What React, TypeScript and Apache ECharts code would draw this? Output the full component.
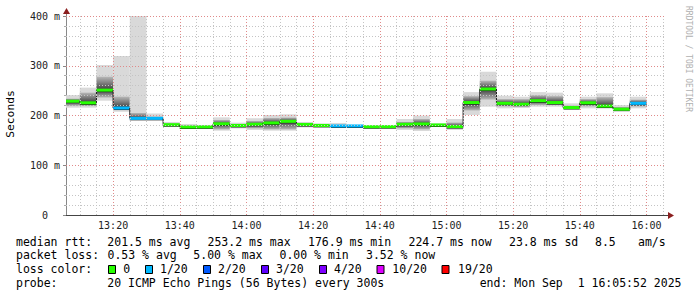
import React, { useEffect, useRef } from 'react';
import * as echarts from 'echarts';

// ---- data ----
const rangeStart = '13:05:52';
const rangeEnd = '16:05:52';
const binMinutes = 5;
const binStarts = [
  '13:05', '13:10', '13:15', '13:20', '13:25', '13:30', '13:35', '13:40', '13:45', '13:50',
  '13:55', '14:00', '14:05', '14:10', '14:15', '14:20', '14:25', '14:30', '14:35', '14:40',
  '14:45', '14:50', '14:55', '15:00', '15:05', '15:10', '15:15', '15:20', '15:25', '15:30',
  '15:35', '15:40', '15:45', '15:50', '15:55',
];
const medianRtt = [
  228.7, 225.5, 251.0, 215.0, 194.3, 194.3, 181.5, 176.9, 177.2, 183.3,
  180.0, 182.3, 185.0, 188.3, 182.0, 180.0, 179.0, 179.0, 177.5, 177.6,
  182.3, 183.0, 181.0, 177.8, 226.0, 253.2, 224.5, 222.7, 229.8, 226.0,
  216.0, 225.5, 219.0, 212.7, 224.5,
];
const smokeLow = [
  215.7, 215.7, 229.8, 207.7, 193.0, 193.0, 180.0, 175.0, 175.0, 169.5,
  174.0, 171.0, 169.5, 169.5, 176.0, 178.0, 177.0, 177.0, 175.5, 175.5,
  171.0, 168.8, 178.0, 171.0, 201.0, 217.7, 214.4, 215.0, 217.7, 217.7,
  213.0, 214.4, 214.4, 211.0, 214.4,
];
const smokeHigh = [
  241.0, 256.0, 301.5, 319.6, 400.0, 204.0, 187.0, 183.0, 181.0, 196.3,
  185.6, 194.3, 201.0, 202.4, 187.0, 184.0, 185.0, 181.0, 179.0, 179.0,
  193.0, 199.7, 184.0, 193.0, 247.0, 288.0, 239.8, 237.8, 247.0, 245.9,
  224.5, 237.8, 244.6, 221.0, 237.8,
];
const coreLow = [
  219, 219, 236, 211, 193, 193, 180, 176, 176, 172,
  176, 174, 172, 172, 177, 179, 178, 178, 176, 176,
  174, 172, 179, 174, 210, 232, 218, 218, 221, 221,
  214, 218, 216, 212, 218,
];
const coreHigh = [
  234, 246, 278, 238, 205, 198, 184, 180, 179, 191,
  183, 189, 195, 196, 185, 182, 181, 180, 178, 178.5,
  187, 193, 183, 186, 239, 270, 233, 233, 241, 239,
  220, 233, 237, 217, 232,
];
const lostPings = [
  0, 0, 0, 1, 1, 1, 0, 0, 0, 0,
  0, 0, 0, 0, 0, 0, 1, 1, 0, 0,
  0, 0, 0, 0, 0, 0, 0, 0, 0, 0,
  0, 0, 0, 0, 1,
];
const lossThresholds = [0, 1, 2, 3, 4, 10, 19];
const lossColors = ['#26ff00', '#00b8ff', '#0059ff', '#5e00ff', '#7e00ff', '#dd00ff', '#ff0000'];
const lossLabels = ['0', '1/20', '2/20', '3/20', '4/20', '10/20', '19/20'];
const xTickLabels = ['13:20', '13:40', '14:00', '14:20', '14:40', '15:00', '15:20', '15:40', '16:00'];
const yMax = 400;
const yStep = 100;
const yAxisTitle = 'Seconds';
const watermark = 'RRDTOOL / TOBI OETIKER';
const rttLine = ['median rtt:', '201.5 ms avg', '253.2 ms max', '176.9 ms min', '224.7 ms now', '23.8 ms sd', '8.5', 'am/s'];
const lossLine = ['packet loss:', '0.53 % avg', '5.00 % max', '0.00 % min', '3.52 % now'];
const colorLineTitle = 'loss color:';
const probeLine = ['probe:', '20 ICMP Echo Pings (56 Bytes) every 300s'];
const endLine = ['end: Mon Sep', '1 16:05:52 2025'];

// ---- helpers ----
const toMin = (s: string) => {
  const p = s.split(':').map(Number);
  return p[0] * 60 + p[1] + (p[2] || 0) / 60;
};
const fmtMin = (v: number) => {
  const h = Math.floor(v / 60);
  const m = Math.round(v - h * 60);
  return `${h}:${m < 10 ? '0' : ''}${m}`;
};
const lossColorFor = (n: number) => {
  let idx = 0;
  lossThresholds.forEach((t, i) => { if (n >= t) idx = i; });
  return lossColors[idx];
};

const X_MIN = toMin(rangeStart);
const X_MAX = toMin(rangeEnd);
const MONO = '"DejaVu Sans Mono", monospace';

// layout (pixels)
const rttX = [16, 107.3, 207.5, 308, 408.5, 509, 595, 638];
const lossX = [16, 107.5, 193.3, 279.5, 366];
const boxX = [108.5, 145.5, 203.5, 261.5, 319.5, 377, 442];
const boxLabelX = [123.3, 160, 218, 276, 334, 392.3, 458];
const rowY = [241.5, 255.3, 269.3, 283.3];

export default function App() {
  const ref = useRef<HTMLDivElement>(null);
  useEffect(() => {
    if (!ref.current) return;
    const chart = echarts.init(ref.current, undefined, { renderer: 'svg' });

    const gridLines: any[] = [];
    for (let m = Math.ceil(X_MIN / 5) * 5; m <= X_MAX; m += 5) {
      const major = m % 20 === 0;
      gridLines.push({ xAxis: m, lineStyle: { color: major ? '#e08a8a' : '#c4c4c4', type: [1, 2], width: 1 } });
    }
    for (let v = 20; v <= yMax; v += 20) {
      const major = v % 100 === 0;
      gridLines.push({ yAxis: v, lineStyle: { color: major ? '#e08a8a' : '#c4c4c4', type: [1, 2], width: 1 } });
    }

    const textEl = (text: string, x: number, y: number, extra: any = {}) => ({
      type: 'text', x, y, silent: true,
      style: { text, font: `11.5px ${MONO}`, fill: '#000', align: 'left', verticalAlign: 'middle', ...extra },
    });

    const graphics: any[] = [];
    rttLine.forEach((t, i) => graphics.push(textEl(t, rttX[i], rowY[0])));
    lossLine.forEach((t, i) => graphics.push(textEl(t, lossX[i], rowY[1])));
    graphics.push(textEl(colorLineTitle, 16, rowY[2]));
    lossLabels.forEach((t, i) => {
      graphics.push({ type: 'rect', silent: true, shape: { x: boxX[i], y: 265.5, width: 7, height: 8 }, style: { fill: lossColors[i], stroke: '#000', lineWidth: 1 } });
      graphics.push(textEl(t, boxLabelX[i], rowY[2]));
    });
    graphics.push(textEl(probeLine[0], 16, rowY[3]));
    graphics.push(textEl(probeLine[1], 107.3, rowY[3]));
    graphics.push(textEl(endLine[0], 479.7, rowY[3]));
    graphics.push(textEl(endLine[1], 681.5, rowY[3], { align: 'right' }));
    graphics.push({
      type: 'text', x: 10.5, y: 114, rotation: Math.PI / 2, silent: true,
      style: { text: yAxisTitle, font: `11.3px ${MONO}`, fill: '#000', align: 'center', verticalAlign: 'middle' },
    });
    graphics.push({
      type: 'text', x: 688, y: 59, rotation: -Math.PI / 2, silent: true,
      style: { text: watermark, font: `8px ${MONO}`, fill: '#b0b0b0', align: 'center', verticalAlign: 'middle' },
    });
    // axis arrows
    graphics.push({ type: 'line', silent: true, shape: { x1: 66.5, y1: 16, x2: 66.5, y2: 12 }, style: { stroke: '#888', lineWidth: 1 } });
    graphics.push({ type: 'polygon', silent: true, shape: { points: [[63, 14], [70, 14], [66.5, 8]] }, style: { fill: '#8b1f1f' } });
    graphics.push({ type: 'line', silent: true, shape: { x1: 666, y1: 215.5, x2: 669, y2: 215.5 }, style: { stroke: '#444', lineWidth: 1 } });
    graphics.push({ type: 'polygon', silent: true, shape: { points: [[668, 212], [668, 219], [674, 215.5]] }, style: { fill: '#8b1f1f' } });

    const seriesData = binStarts.map((s, i) => [toMin(s), toMin(s) + binMinutes, smokeLow[i], smokeHigh[i]]);

    chart.setOption({
      animation: false,
      backgroundColor: '#ffffff',
      grid: { left: 66, right: 31, top: 16, bottom: 82, containLabel: false },
      xAxis: {
        type: 'value', min: X_MIN, max: X_MAX,
        axisLine: { show: true, lineStyle: { color: '#444', width: 1 } },
        axisTick: { show: false },
        splitLine: { show: false },
        axisLabel: {
          customValues: xTickLabels.map(toMin),
          formatter: (v: number) => fmtMin(v),
          fontFamily: MONO, fontSize: 10, color: '#222', margin: 5,
        },
      },
      yAxis: {
        type: 'value', min: 0, max: yMax, interval: yStep,
        axisLine: { show: true, lineStyle: { color: '#888', width: 1 } },
        axisTick: { show: true, length: 3, lineStyle: { color: '#888' } },
        minorTick: { show: true, splitNumber: 5, length: 2, lineStyle: { color: '#aaa' } },
        splitLine: { show: false },
        axisLabel: {
          formatter: (v: number) => (v === 0 ? '0\u00a0\u00a0' : `${v} m`),
          fontFamily: MONO, fontSize: 10, color: '#222', margin: 6,
        },
      },
      series: [
        {
          type: 'custom',
          data: seriesData,
          encode: { x: [0, 1], y: [2, 3] },
          renderItem: (params: any, api: any) => {
            const i = params.dataIndex;
            const x0 = Math.max(api.value(0), X_MIN);
            const x1 = api.value(1);
            const [ax, yLo] = api.coord([x0, smokeLow[i]]);
            const [bx, yHi] = api.coord([x1, smokeHigh[i]]);
            const cLo = api.coord([x0, coreLow[i]])[1];
            const cHi = api.coord([x0, coreHigh[i]])[1];
            const yMed = api.coord([x0, medianRtt[i]])[1];
            const w = bx - ax;
            const t = Math.min(1, Math.max(0, (yMed - cHi) / Math.max(1, cLo - cHi)));
            const children: any[] = [
              { type: 'rect', shape: { x: ax, y: yHi, width: w, height: yLo - yHi }, style: { fill: '#d9d9d9' } },
              {
                type: 'rect', shape: { x: ax, y: cHi, width: w, height: cLo - cHi },
                style: {
                  fill: {
                    type: 'linear', x: 0, y: 0, x2: 0, y2: 1,
                    colorStops: [
                      { offset: 0, color: '#b8b8b8' },
                      { offset: t, color: '#3c3c3c' },
                      { offset: 1, color: '#b8b8b8' },
                    ],
                  },
                },
              },
            ];
            if (i > 0) {
              const yPrev = api.coord([x0, medianRtt[i - 1]])[1];
              children.push({ type: 'line', shape: { x1: ax, y1: yPrev, x2: ax, y2: yMed }, style: { stroke: '#1a1a1a', lineWidth: 1 } });
            }
            children.push({ type: 'line', shape: { x1: ax, y1: yMed + 1.5, x2: bx, y2: yMed + 1.5 }, style: { stroke: '#1a1a1a', lineWidth: 1 } });
            children.push({ type: 'rect', shape: { x: ax, y: yMed - 1.5, width: w, height: 3 }, style: { fill: lossColorFor(lostPings[i]) } });
            return { type: 'group', children };
          },
          markLine: {
            silent: true, animation: false, symbol: ['none', 'none'],
            label: { show: false }, emphasis: { disabled: true },
            data: gridLines,
          },
        },
      ],
      graphic: graphics,
    });
    return () => chart.dispose();
  }, []);
  return <div ref={ref} style={{ position: 'fixed', left: 0, top: 0, width: 697, height: 297 }} />;
}
